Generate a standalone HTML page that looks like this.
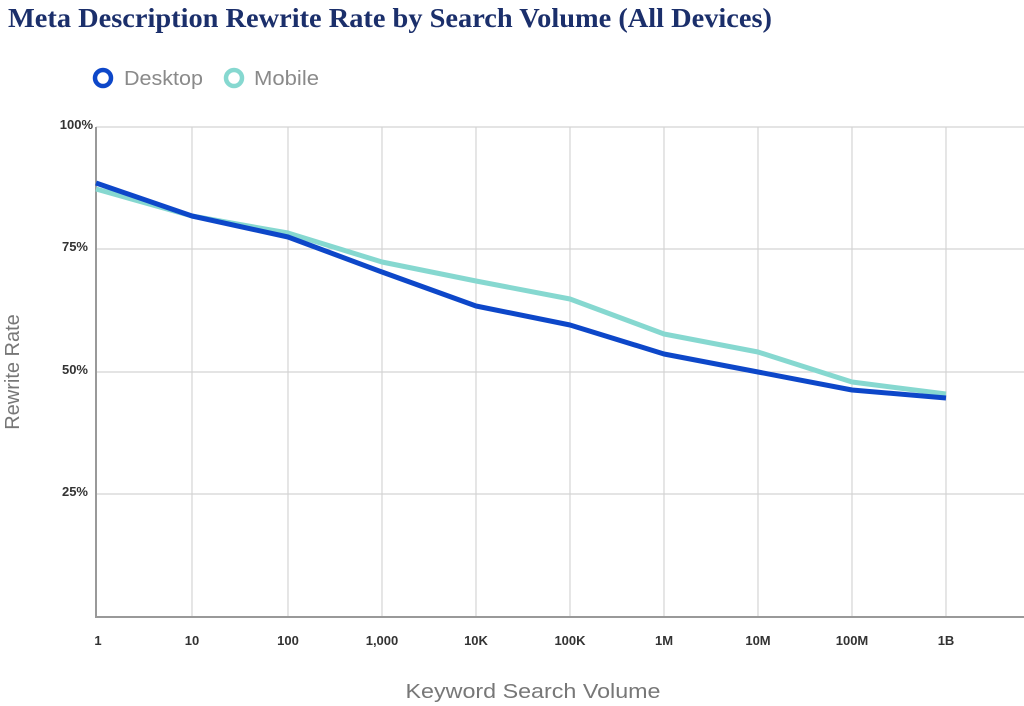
<!DOCTYPE html>
<html><head><style>
body{margin:0;background:#fff;}
svg{display:block;}
</style></head><body>
<svg width="1024" height="706" xmlns="http://www.w3.org/2000/svg">
<text x="8" y="27" font-family="Liberation Serif, serif" font-weight="bold" font-size="27" fill="#1b2f6b" textLength="764" lengthAdjust="spacingAndGlyphs">Meta Description Rewrite Rate by Search Volume (All Devices)</text>
<circle cx="103" cy="78" r="8" fill="none" stroke="#0d47c9" stroke-width="4.5"/>
<text x="124" y="85" font-family="Liberation Sans, sans-serif" font-size="20" fill="#8a8a8a" textLength="79" lengthAdjust="spacingAndGlyphs">Desktop</text>
<circle cx="234" cy="78" r="8" fill="none" stroke="#86d8d0" stroke-width="4.5"/>
<text x="254" y="85" font-family="Liberation Sans, sans-serif" font-size="20" fill="#8a8a8a" textLength="65" lengthAdjust="spacingAndGlyphs">Mobile</text>
<g stroke="#d4d4d4" stroke-width="1.2">
<line x1="96" y1="127" x2="1024" y2="127"/>
<line x1="96" y1="249" x2="1024" y2="249"/>
<line x1="96" y1="372" x2="1024" y2="372"/>
<line x1="96" y1="494" x2="1024" y2="494"/>
<line x1="192" y1="127" x2="192" y2="617"/>
<line x1="288" y1="127" x2="288" y2="617"/>
<line x1="382" y1="127" x2="382" y2="617"/>
<line x1="476" y1="127" x2="476" y2="617"/>
<line x1="570" y1="127" x2="570" y2="617"/>
<line x1="664" y1="127" x2="664" y2="617"/>
<line x1="758" y1="127" x2="758" y2="617"/>
<line x1="852" y1="127" x2="852" y2="617"/>
<line x1="946" y1="127" x2="946" y2="617"/>
</g>
<line x1="96" y1="127" x2="96" y2="618" stroke="#999" stroke-width="2"/>
<line x1="95" y1="617" x2="1024" y2="617" stroke="#999" stroke-width="2"/>
<g font-family="Liberation Sans, sans-serif" font-weight="bold" font-size="13" fill="#333" text-anchor="end">
<text x="93" y="129">100%</text>
<text x="88" y="251">75%</text>
<text x="88" y="374">50%</text>
<text x="88" y="496">25%</text>
</g>
<g font-family="Liberation Sans, sans-serif" font-weight="bold" font-size="13" fill="#333" text-anchor="middle">
<text x="98" y="645">1</text>
<text x="192" y="645">10</text>
<text x="288" y="645">100</text>
<text x="382" y="645">1,000</text>
<text x="476" y="645">10K</text>
<text x="570" y="645">100K</text>
<text x="664" y="645">1M</text>
<text x="758" y="645">10M</text>
<text x="852" y="645">100M</text>
<text x="946" y="645">1B</text>
</g>
<text x="533" y="698" font-family="Liberation Sans, sans-serif" font-size="20" fill="#777" text-anchor="middle" textLength="255" lengthAdjust="spacingAndGlyphs">Keyword Search Volume</text>
<text transform="translate(19,372) rotate(-90)" font-family="Liberation Sans, sans-serif" font-size="20" fill="#777" text-anchor="middle">Rewrite Rate</text>
<polyline fill="none" stroke="#86d8d0" stroke-width="5" stroke-linejoin="round" points="96,189 192,216 288,233 382,262 476,281 570,299 664,334 758,352 852,382 946,394"/>
<polyline fill="none" stroke="#0d47c9" stroke-width="5" stroke-linejoin="round" points="96,183 192,216 288,237 382,272 476,306 570,325 664,354 758,372 852,390 946,398"/>
</svg>
</body></html>
